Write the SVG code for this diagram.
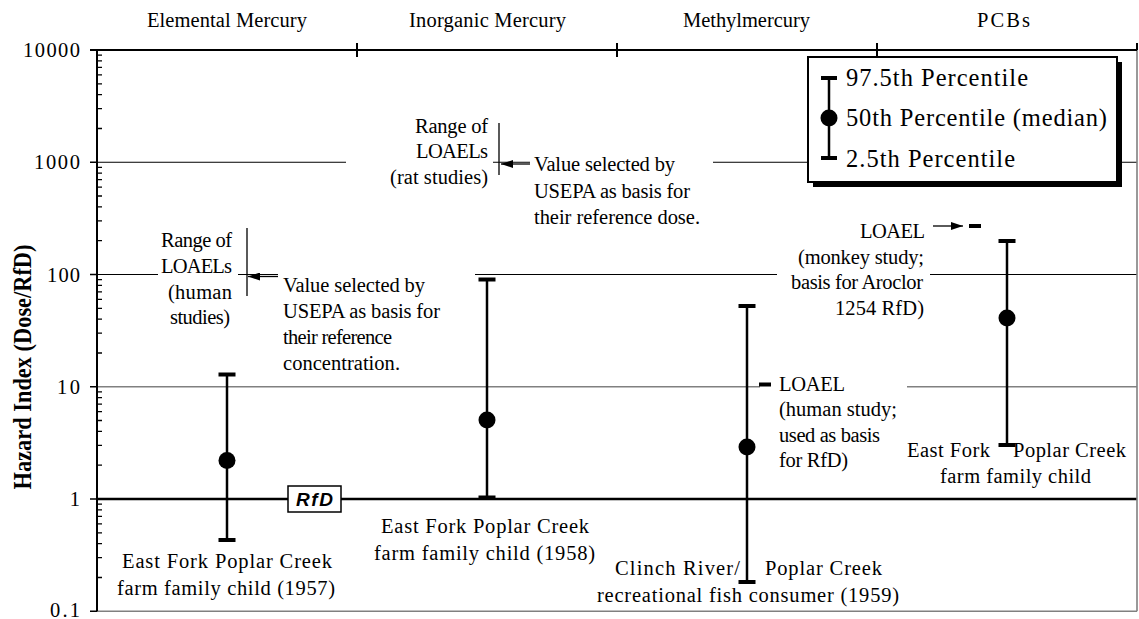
<svg xmlns="http://www.w3.org/2000/svg" width="1139" height="619" viewBox="0 0 1139 619">
<defs>
<style>
.t{font-family:"Liberation Serif","Times New Roman",serif;font-size:20.5px;fill:#000}
.lg{font-size:24.5px}
.ttl{font-weight:bold;font-size:25px}
.rfd{font-family:"Liberation Sans",Arial,sans-serif;font-weight:bold;font-style:italic;font-size:19px;fill:#000}
.gk{stroke:#000;stroke-width:1;fill:none}
.gg{stroke:#808080;stroke-width:1.6;fill:none}
.ax{stroke:#000;stroke-width:2;fill:none}
.wh{stroke:#000;stroke-width:2.5}
.arr{stroke:#000;stroke-width:1.3;fill:none;marker-end:url(#ah)}
</style>
<marker id="ah" viewBox="0 0 12 8" refX="12" refY="4" markerWidth="12" markerHeight="8" markerUnits="userSpaceOnUse" orient="auto">
<path d="M0,0 L12,4 L0,8 z" fill="#000"/>
</marker>
</defs>
<rect x="0" y="0" width="1139" height="619" fill="#fff"/>

<g id="gridlines">
<path class="gk" d="M97,162.25H346M493,162.25H530M713,162.25H1137"/>
<path class="gk" d="M97,274.5H158M238,274.5H278M475,274.5H777M930,274.5H1137"/>
<path class="gg" d="M97,386.75H760M907,386.75H1137"/>
<path d="M97,499H1137" stroke="#000" stroke-width="2.5"/>
<path class="gg" d="M97,611.25H1137M1137,50V611.25" stroke-width="2"/>
</g>

<g id="axes">
<path class="ax" d="M97,49V611.25M90,50H1137"/>
<path class="ax" d="M357,43V57M617,43V57M877,43V57M1137,43V50"/>
<path d="M90,162.25H97M90,274.5H97M90,386.75H97M90,499H97M90,611.25H97" stroke="#000" stroke-width="1.5"/>
<path stroke="#000" stroke-width="1.3" d="M97,577.5h5M97,557.7h5M97,543.7h5M97,532.8h5M97,523.9h5M97,516.4h5M97,509.9h5M97,504.1h5M97,465.2h5M97,445.4h5M97,431.4h5M97,420.5h5M97,411.7h5M97,404.1h5M97,397.6h5M97,391.9h5M97,353h5M97,333.2h5M97,319.2h5M97,308.3h5M97,299.4h5M97,291.9h5M97,285.4h5M97,279.6h5M97,240.7h5M97,220.9h5M97,206.9h5M97,196h5M97,187.2h5M97,179.6h5M97,173.1h5M97,167.4h5M97,128.5h5M97,108.7h5M97,94.7h5M97,83.8h5M97,74.9h5M97,67.4h5M97,60.9h5M97,55.1h5"/>
<g class="t" text-anchor="end">
<text x="80" y="57" textLength="57">10000</text>
<text x="80" y="169" textLength="46">1000</text>
<text x="80" y="281.5" textLength="33">100</text>
<text x="80" y="393.5" textLength="23">10</text>
<text x="80" y="506">1</text>
<text x="80" y="617" textLength="30">0.1</text>
</g>
<text class="t ttl" transform="translate(31,367) rotate(-90)" text-anchor="middle" textLength="245" lengthAdjust="spacingAndGlyphs">Hazard Index (Dose/RfD)</text>
<g class="t" text-anchor="middle">
<text x="227" y="27" textLength="160">Elemental Mercury</text>
<text x="487.5" y="27" textLength="157">Inorganic Mercury</text>
<text x="746.5" y="27" textLength="127">Methylmercury</text>
<text x="1003.5" y="27" textLength="53">PCBs</text>
</g>
</g>

<g id="rfd-label">
<rect x="288" y="486" width="53" height="26" fill="#fff" stroke="#000" stroke-width="1.5"/>
<text class="rfd" x="314.5" y="506" text-anchor="middle" textLength="37">RfD</text>
</g>

<g id="annotation-elemental">
<g class="t" text-anchor="end">
<text x="232" y="247" textLength="71">Range of</text>
<text x="232" y="273" textLength="71">LOAELs</text>
<text x="232" y="298.5" textLength="64">(human</text>
<text x="230" y="324" textLength="60">studies)</text>
</g>
<path d="M247,228V296" stroke="#000" stroke-width="1.3"/>
<g class="t">
<text x="283" y="292" textLength="142">Value selected by</text>
<text x="283" y="318" textLength="157">USEPA as basis for</text>
<text x="283" y="344" textLength="109">their reference</text>
<text x="283" y="370" textLength="117">concentration.</text>
</g>
</g>

<g id="annotation-inorganic">
<g class="t" text-anchor="end">
<text x="488" y="133" textLength="73">Range of</text>
<text x="488" y="158" textLength="72">LOAELs</text>
<text x="488" y="183.5" textLength="98">(rat studies)</text>
</g>
<path d="M499,123V175" stroke="#000" stroke-width="1.3"/>
<g class="t">
<text x="534" y="171" textLength="141">Value selected by</text>
<text x="534" y="197.5" textLength="156">USEPA as basis for</text>
<text x="534" y="224" textLength="166">their reference dose.</text>
</g>
</g>

<g id="annotation-methylmercury">
<rect x="759" y="382.5" width="12" height="4" fill="#000"/>
<g class="t">
<text x="779" y="391" textLength="66">LOAEL</text>
<text x="779" y="416" textLength="118">(human study;</text>
<text x="779" y="441.5" textLength="101">used as basis</text>
<text x="779" y="467" textLength="69">for RfD)</text>
</g>
</g>

<g id="annotation-pcbs">
<rect x="969" y="224" width="12" height="4" fill="#000"/>
<g class="t" text-anchor="end">
<text x="925" y="238" textLength="65">LOAEL</text>
<text x="924" y="263.5" textLength="126">(monkey study;</text>
<text x="923" y="289" textLength="132">basis for Aroclor</text>
<text x="924" y="314.5" textLength="89">1254 RfD)</text>
</g>
</g>

<g id="connectors">
<line class="arr" x1="278" y1="276.5" x2="248" y2="276.5" stroke-width="2"/>
<line class="arr" x1="530" y1="164" x2="501" y2="164" stroke-width="2"/>
<line class="arr" x1="933" y1="226" x2="963" y2="226"/>
</g>

<g id="labels">
<g class="t" text-anchor="middle">
<text x="227" y="568" textLength="210">East Fork Poplar Creek</text>
<text x="226" y="595" textLength="218">farm family child (1957)</text>
<text x="485" y="533" textLength="208">East Fork Poplar Creek</text>
<text x="484.5" y="559.5" textLength="221">farm family child (1958)</text>
<text x="748" y="601.5" textLength="302">recreational fish consumer (1959)</text>
<text x="1015.5" y="482.5" textLength="151">farm family child</text>
</g>
<g class="t">
<text x="615" y="575" textLength="125">Clinch River/</text>
<text x="765" y="575" textLength="117">Poplar Creek</text>
<text x="907" y="457" textLength="83">East Fork</text>
<text x="1013" y="457" textLength="113">Poplar Creek</text>
</g>
</g>

<g id="series-elemental-mercury">
<line class="wh" x1="227" y1="374.5" x2="227" y2="540"/>
<rect x="218.5" y="372.5" width="17" height="4"/>
<rect x="218.5" y="538" width="17" height="4"/>
<circle cx="227" cy="460.5" r="8.5"/>
</g>
<g id="series-inorganic-mercury">
<line class="wh" x1="487" y1="279.5" x2="487" y2="497.5"/>
<rect x="478.5" y="277.5" width="17" height="4"/>
<rect x="478.5" y="495.5" width="17" height="4"/>
<circle cx="487" cy="420" r="8.5"/>
</g>
<g id="series-methylmercury">
<line class="wh" x1="747" y1="306" x2="747" y2="582"/>
<rect x="738.5" y="304" width="17" height="4"/>
<rect x="738.5" y="580" width="17" height="4"/>
<circle cx="747" cy="447" r="8.5"/>
</g>
<g id="series-pcbs">
<line class="wh" x1="1007" y1="241" x2="1007" y2="445"/>
<rect x="998.5" y="239" width="17" height="4"/>
<rect x="998.5" y="443" width="17" height="4"/>
<circle cx="1007" cy="318" r="8.5"/>
</g>

<g id="legend">
<rect x="813" y="62" width="309" height="125" fill="#000"/>
<rect x="808" y="57" width="309" height="125" fill="#fff" stroke="#000" stroke-width="2"/>
<line class="wh" x1="829" y1="78" x2="829" y2="158"/>
<rect x="821" y="76" width="16" height="4"/>
<rect x="821" y="156" width="16" height="4"/>
<circle cx="829" cy="118" r="8.5"/>
<g class="t lg">
<text x="846" y="86" textLength="182">97.5th Percentile</text>
<text x="846" y="126" textLength="261">50th Percentile (median)</text>
<text x="846" y="167" textLength="169">2.5th Percentile</text>
</g>
</g>
</svg>
